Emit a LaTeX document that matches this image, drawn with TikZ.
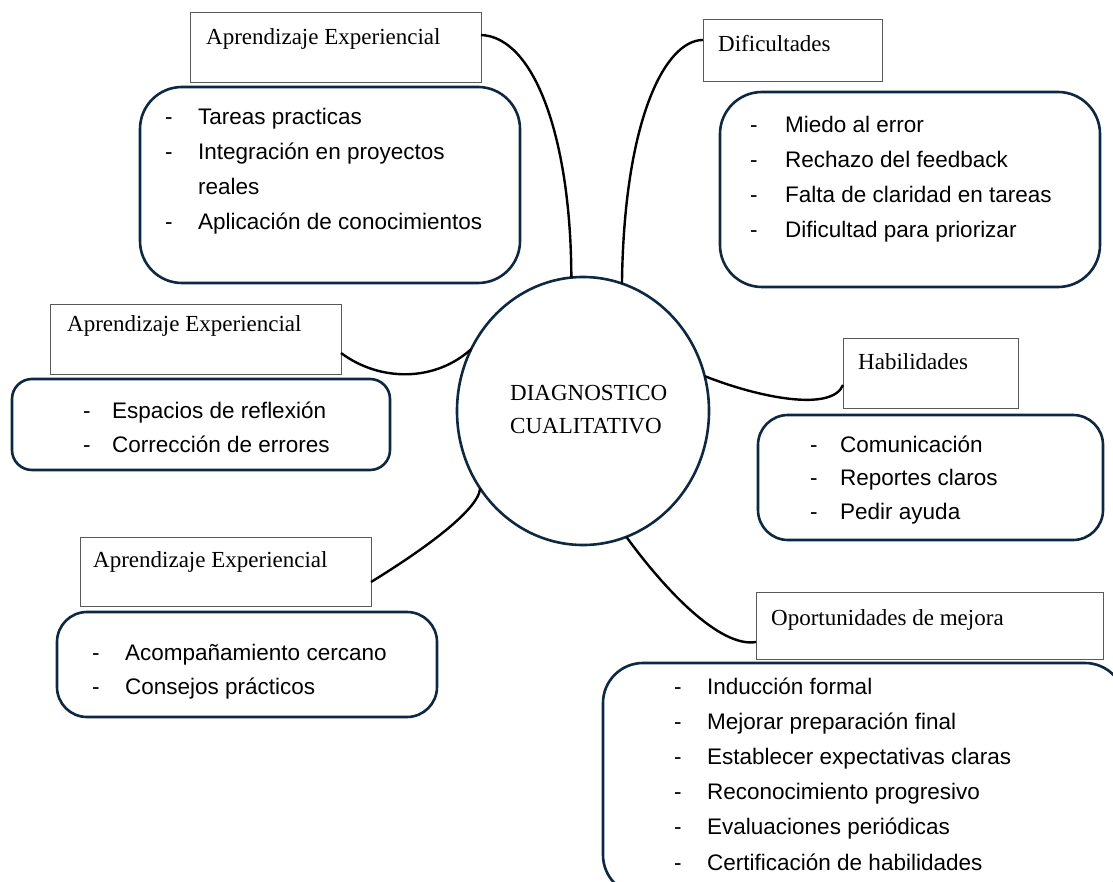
\documentclass[tikz,border=0pt]{standalone}
\usepackage{fontspec}
\setmainfont{Liberation Serif}
\newfontfamily\bodysans{Liberation Sans}
\usetikzlibrary{shapes.geometric}
\definecolor{navy}{HTML}{0E2841}
\definecolor{framegray}{HTML}{595959}

% two-column list: a dash, then the item text
\newcommand\dashlist[2]{\begin{tabular}[t]{@{}p{#1}@{}l@{}}#2\end{tabular}}

\tikzset{
  roundbox/.style={draw=navy, line width=2.6pt, rounded corners=#1,
    anchor=north west, inner sep=0pt, outer sep=0pt},
  labelbox/.style={draw=framegray, line width=1pt, fill=white,
    anchor=north west, inner sep=0pt, outer sep=0pt},
  labeltext/.style={anchor=base west, inner sep=0pt,
    font=\fontsize{23}{28}\selectfont},
  listtext/.style={anchor=base west, inner sep=0pt,
    font=\bodysans\fontsize{22.5}{35}\selectfont},
  link/.style={line width=2.4pt, draw=black},
}

\begin{document}
\begin{tikzpicture}[x=1pt, y=-1pt]
\path[use as bounding box, fill=white] (0,0) rectangle (1113,882);
\clip (0,0) rectangle (1113,882);

% central ellipse
\node[draw=navy, line width=2.6pt, ellipse, minimum width=252, minimum height=268,
      inner sep=0pt, outer sep=0pt] (diag) at (583,411) {};
\node[labeltext, font=\fontsize{23}{33}\selectfont] (diagtext) at (510,400)
  {\begin{tabular}[t]{@{}l@{}}DIAGNOSTICO\\CUALITATIVO\end{tabular}};

% title boxes
\node[labelbox, minimum width=291, minimum height=70] (lab1) at (190,13) {};
\node[labeltext] (lab1t) at (206,45) {Aprendizaje Experiencial};

\node[labelbox, minimum width=179, minimum height=62] (lab2) at (703,20) {};
\node[labeltext] (lab2t) at (718,52) {Dificultades};

\node[labelbox, minimum width=291, minimum height=69] (lab3) at (50,305) {};
\node[labeltext] (lab3t) at (67,331) {Aprendizaje Experiencial};

\node[labelbox, minimum width=175, minimum height=69] (lab4) at (843,339) {};
\node[labeltext] (lab4t) at (858,370) {Habilidades};

\node[labelbox, minimum width=291, minimum height=69] (lab5) at (80,537) {};
\node[labeltext] (lab5t) at (93,567) {Aprendizaje Experiencial};

\node[labelbox, minimum width=347, minimum height=67] (lab6) at (756,592) {};
\node[labeltext] (lab6t) at (771,625) {Oportunidades de mejora};

% rounded list boxes
\node[roundbox=42pt, minimum width=380, minimum height=196] (r1) at (140,87) {};
\node[listtext] (r1list) at (165,125) {\dashlist{33pt}{%
  - & Tareas practicas\\
  - & Integración en proyectos\\
    & reales\\
  - & Aplicación de conocimientos}};

\node[roundbox=42pt, minimum width=380, minimum height=195] (r2) at (720,92) {};
\node[listtext] (r2list) at (750,133) {\dashlist{35pt}{%
  - & Miedo al error\\
  - & Rechazo del feedback\\
  - & Falta de claridad en tareas\\
  - & Dificultad para priorizar}};

\node[roundbox=20pt, minimum width=378, minimum height=91] (r3) at (12,379) {};
\node[listtext, font=\bodysans\fontsize{22.5}{34}\selectfont] (r3list) at (83,418) {\dashlist{29pt}{%
  - & Espacios de reflexión\\
  - & Corrección de errores}};

\node[roundbox=30pt, minimum width=345, minimum height=125] (r4) at (758,415) {};
\node[listtext, font=\bodysans\fontsize{22.5}{33.5}\selectfont] (r4list) at (810,452) {\dashlist{30pt}{%
  - & Comunicación\\
  - & Reportes claros\\
  - & Pedir ayuda}};

\node[roundbox=30pt, minimum width=380, minimum height=105] (r5) at (57,612) {};
\node[listtext, font=\bodysans\fontsize{22.5}{34}\selectfont] (r5list) at (92,660) {\dashlist{33pt}{%
  - & Acompañamiento cercano\\
  - & Consejos prácticos}};

\node[roundbox=40pt, minimum width=522, minimum height=232] (r6) at (603,663) {};
\node[listtext, font=\bodysans\fontsize{22.5}{35.2}\selectfont] (r6list) at (674,694) {\dashlist{33pt}{%
  - & Inducción formal\\
  - & Mejorar preparación final\\
  - & Establecer expectativas claras\\
  - & Reconocimiento progresivo\\
  - & Evaluaciones periódicas\\
  - & Certificación de habilidades}};

% connectors from the title boxes to the ellipse
\draw[link] (lab1.east |- 0,35) .. controls (535,37) and (571,140) .. (diag.95.5);
\draw[link] (lab2.west |- 0,40) .. controls (665,40) and (624,120) .. (diag.73.5);
\draw[link] (lab3.east |- 0,353) .. controls (380,382) and (435,382) .. (diag.151);
\draw[link] (diag.16) .. controls (760,398) and (832,412) .. (lab4.west |- 0,385);
\draw[link] (lab5.east |- 0,582) .. controls (415,555) and (478,512) .. (diag.217.5);
\draw[link] (diag.289.4) .. controls (665,590) and (720,648) .. (lab6.west |- 0,642);
\end{tikzpicture}
\end{document}
